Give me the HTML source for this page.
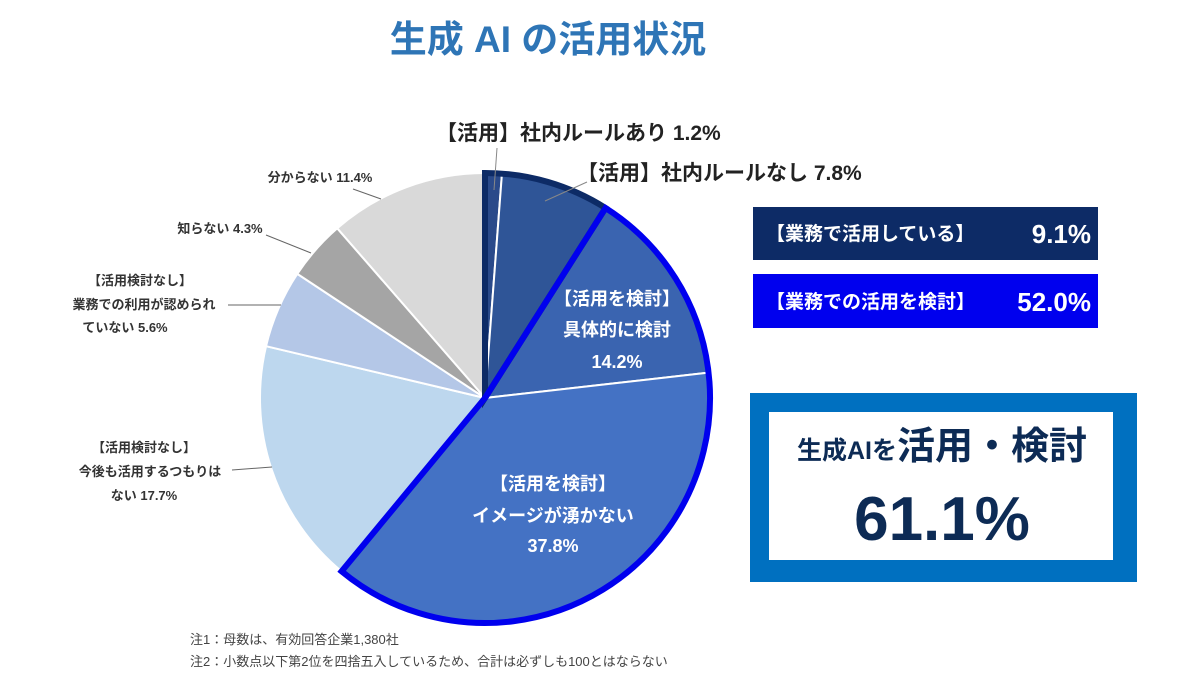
<!DOCTYPE html>
<html><head><meta charset="utf-8"><style>
body{margin:0;width:1200px;height:695px;background:#fff;overflow:hidden;font-family:"Liberation Sans","Noto Sans CJK JP",sans-serif;}
svg{position:absolute;left:0;top:0}
</style></head><body>
<svg id="c" width="1200" height="695">
<text x="548" y="52" text-anchor="middle" font-size="37" font-weight="bold" fill="#2e75b6">生成 AI の活用状況</text>
<g id="slices"></g><g id="outlines"></g>
<g font-weight="bold" fill="#222">
<text x="436" y="140" font-size="21">【活用】社内ルールあり 1.2%</text>
<text x="577" y="180" font-size="21">【活用】社内ルールなし 7.8%</text>
<line x1="497" y1="148" x2="494" y2="190" stroke="#888"/>
<line x1="587" y1="182" x2="545" y2="201" stroke="#888"/>
<g fill="#fff" font-size="18" text-anchor="middle">
<text x="617" y="305">【活用を検討】</text>
<text x="617" y="336">具体的に検討</text><text x="617" y="368">14.2%</text>
<text x="553" y="490">【活用を検討】</text>
<text x="553" y="522">イメージが湧かない</text><text x="553" y="552">37.8%</text>
</g>
<g font-size="13" fill="#333" text-anchor="middle">
<text x="320" y="182">分からない 11.4%</text>
<line x1="353" y1="189" x2="381" y2="199" stroke="#666"/>
<text x="220" y="233">知らない 4.3%</text>
<line x1="266" y1="235" x2="311" y2="253" stroke="#666"/>
<text x="140" y="285">【活用検討なし】</text>
<text x="144" y="309">業務での利用が認められ</text>
<text x="125" y="332">ていない 5.6%</text>
<line x1="228" y1="305" x2="281" y2="305" stroke="#666"/>
<text x="144" y="452">【活用検討なし】</text>
<text x="150" y="476">今後も活用するつもりは</text>
<text x="144" y="500">ない 17.7%</text>
<line x1="232" y1="470" x2="272" y2="467" stroke="#666"/>
</g>
</g>
<rect x="753" y="207" width="345" height="53" fill="#0d2b66"/>
<text x="766" y="240" font-size="19" font-weight="bold" fill="#fff">【業務で活用している】</text>
<text x="1091" y="243" font-size="26" font-weight="bold" fill="#fff" text-anchor="end">9.1%</text>
<rect x="753" y="274" width="345" height="54" fill="#0000ee"/>
<text x="766" y="308" font-size="19" font-weight="bold" fill="#fff">【業務での活用を検討】</text>
<text x="1091" y="311" font-size="26" font-weight="bold" fill="#fff" text-anchor="end">52.0%</text>
<rect x="750" y="393" width="387" height="189" fill="#0070c0"/>
<rect x="769" y="412" width="344" height="148" fill="#fff"/>
<text x="797" y="459" font-size="25" font-weight="bold" fill="#0d2b55">生成AIを<tspan font-size="38">活用・検討</tspan></text>
<text x="942" y="540" font-size="62" font-weight="bold" fill="#0d2b55" text-anchor="middle">61.1%</text>
<text x="190" y="644" font-size="13" fill="#444">注1：母数は、有効回答企業1,380社</text>
<text x="190" y="666" font-size="13" fill="#444">注2：小数点以下第2位を四捨五入しているため、合計は必ずしも100とはならない</text>
</svg>
<script>
const categories=["社内ルールあり","社内ルールなし","具体的に検討","イメージが湧かない","今後も活用するつもりはない","業務での利用が認められていない","知らない","分からない"];
const values=[1.2,7.8,14.2,37.8,17.7,5.6,4.3,11.4];
const colors=["#2a4a8a","#2f5597","#3a64b0","#4472c4","#bdd7ee","#b4c7e7","#a5a5a5","#d9d9d9"];
const cx=485,cy=398,r=225,NS="http://www.w3.org/2000/svg";
const total=values.reduce((a,b)=>a+b,0);
function pt(a,rr){return [cx+rr*Math.sin(a),cy-rr*Math.cos(a)];}
function arcPath(a0,a1,rr){const p0=pt(a0,rr),p1=pt(a1,rr);const large=a1-a0>Math.PI?1:0;
return `M${cx},${cy}L${p0[0]},${p0[1]}A${rr},${rr} 0 ${large} 1 ${p1[0]},${p1[1]}Z`;}
const angles=[];let acc=0;
values.forEach(v=>{const a0=acc/total*2*Math.PI;acc+=v;angles.push([a0,acc/total*2*Math.PI]);});
const g=document.getElementById('slices');
values.forEach((v,i)=>{const p=document.createElementNS(NS,'path');
p.setAttribute('d',arcPath(angles[i][0],angles[i][1],r));p.setAttribute('fill',colors[i]);
p.setAttribute('stroke','#fff');p.setAttribute('stroke-width','2');


g.appendChild(p);});
const og=document.getElementById('outlines');
[[0,1,"#0d2b66"],[2,3,"#0000ee"]].forEach(([s,e,c])=>{const p=document.createElementNS(NS,'path');
p.setAttribute('d',arcPath(angles[s][0],angles[e][1],r));p.setAttribute('fill','none');
p.setAttribute('stroke',c);p.setAttribute('stroke-width','6');p.setAttribute('stroke-linejoin','miter');


og.appendChild(p);});
</script>
</body></html>
